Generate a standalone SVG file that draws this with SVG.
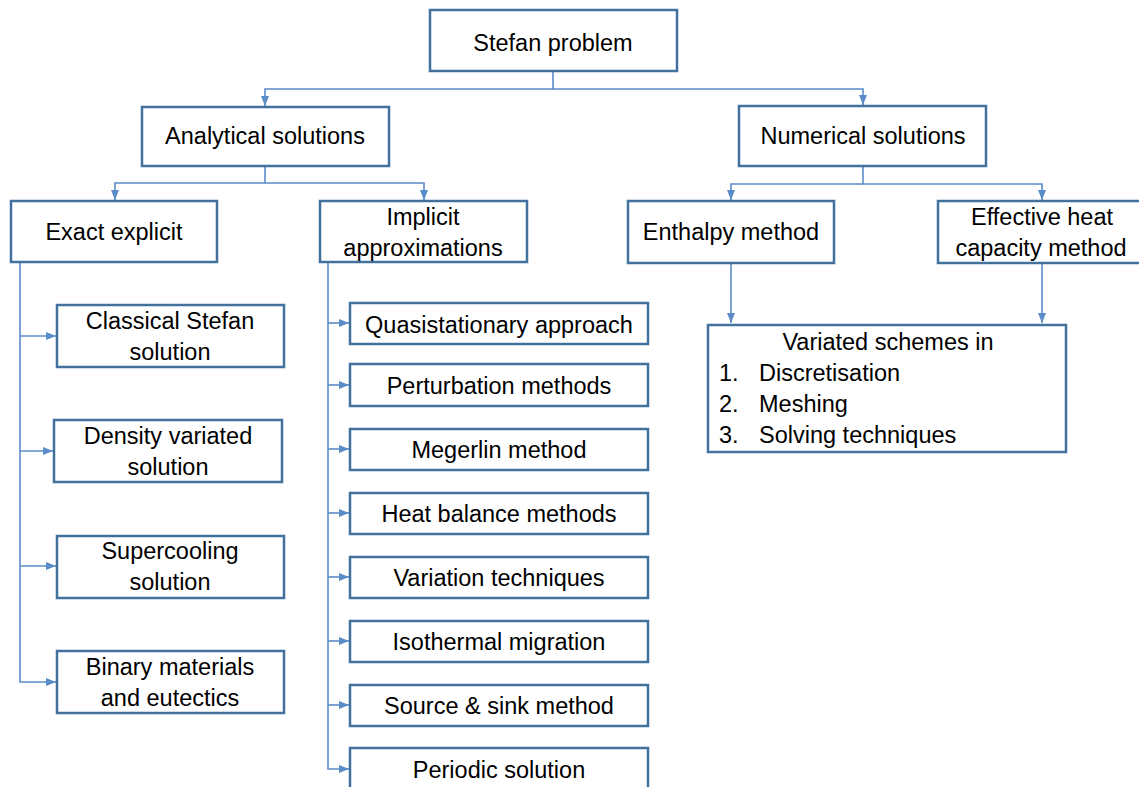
<svg xmlns="http://www.w3.org/2000/svg" width="1139" height="787" viewBox="0 0 1139 787">
<defs>
<style>
.box{fill:#fff;stroke:#41719C;stroke-width:2.5}
.lbl{font-family:"Liberation Sans",Arial,sans-serif;font-size:23.5px;fill:#000;text-anchor:middle}
.lft{text-anchor:start}
.con{fill:none;stroke:#5B8CC8;stroke-width:1.6}
</style>
<marker id="arr" markerUnits="userSpaceOnUse" markerWidth="10" markerHeight="10" viewBox="0 0 10 10" refX="10" refY="5" orient="auto">
<path d="M0,1 L10,5 L0,9 Z" fill="#5B8CC8"/>
</marker>
</defs>
<rect width="1139" height="787" fill="#fff"/>
<g id="connectors">
<path class="con" d="M553 71 V89 H265 V106" marker-end="url(#arr)"/>
<path class="con" d="M553 89 H863 V105" marker-end="url(#arr)"/>
<path class="con" d="M265 166 V183 H115 V200" marker-end="url(#arr)"/>
<path class="con" d="M265 183 H424 V200" marker-end="url(#arr)"/>
<path class="con" d="M863 166 V184 H731 V200" marker-end="url(#arr)"/>
<path class="con" d="M863 184 H1042 V200" marker-end="url(#arr)"/>
<path class="con" d="M731 263 V323" marker-end="url(#arr)"/>
<path class="con" d="M1042 263 V323" marker-end="url(#arr)"/>
<path class="con" d="M20 262 V682 H56" marker-end="url(#arr)"/>
<path class="con" d="M20 336 H56" marker-end="url(#arr)"/>
<path class="con" d="M20 451 H53" marker-end="url(#arr)"/>
<path class="con" d="M20 566 H56" marker-end="url(#arr)"/>
<path class="con" d="M328 262 V769 H349" marker-end="url(#arr)"/>
<path class="con" d="M328 323 H349" marker-end="url(#arr)"/>
<path class="con" d="M328 385 H349" marker-end="url(#arr)"/>
<path class="con" d="M328 449 H349" marker-end="url(#arr)"/>
<path class="con" d="M328 513 H349" marker-end="url(#arr)"/>
<path class="con" d="M328 577 H349" marker-end="url(#arr)"/>
<path class="con" d="M328 641 H349" marker-end="url(#arr)"/>
<path class="con" d="M328 705 H349" marker-end="url(#arr)"/>
</g>
<g id="stefan"><rect class="box" x="430" y="10" width="247" height="61"/><text class="lbl" x="553" y="51">Stefan problem</text></g>
<g id="analytical"><rect class="box" x="142" y="107" width="247" height="59"/><text class="lbl" x="265" y="144">Analytical solutions</text></g>
<g id="numerical"><rect class="box" x="739" y="106" width="247" height="60"/><text class="lbl" x="863" y="144">Numerical solutions</text></g>
<g id="exact"><rect class="box" x="11" y="201" width="206" height="61"/><text class="lbl" x="114" y="240">Exact explicit</text></g>
<g id="implicit"><rect class="box" x="320" y="201" width="207" height="61"/><text class="lbl" x="423" y="225">Implicit</text><text class="lbl" x="423" y="256">approximations</text></g>
<g id="enthalpy"><rect class="box" x="628" y="201" width="206" height="62"/><text class="lbl" x="731" y="240">Enthalpy method</text></g>
<g id="effective"><rect class="box" x="938" y="201" width="215" height="62"/><text class="lbl" x="1042" y="225">Effective heat</text><text class="lbl" x="1041" y="256">capacity method</text></g>
<g id="variated"><rect class="box" x="708" y="325" width="358" height="127"/>
<text class="lbl" x="888" y="350">Variated schemes in</text>
<text class="lbl lft" x="719" y="381">1.</text><text class="lbl lft" x="759" y="381">Discretisation</text>
<text class="lbl lft" x="719" y="412">2.</text><text class="lbl lft" x="759" y="412">Meshing</text>
<text class="lbl lft" x="719" y="443">3.</text><text class="lbl lft" x="759" y="443">Solving techniques</text>
</g>
<g id="classical"><rect class="box" x="57" y="305" width="227" height="62"/><text class="lbl" x="170" y="329">Classical Stefan</text><text class="lbl" x="170" y="360">solution</text></g>
<g id="density"><rect class="box" x="54" y="420" width="228" height="62"/><text class="lbl" x="168" y="444">Density variated</text><text class="lbl" x="168" y="475">solution</text></g>
<g id="supercooling"><rect class="box" x="57" y="536" width="227" height="62"/><text class="lbl" x="170" y="559">Supercooling</text><text class="lbl" x="170" y="590">solution</text></g>
<g id="binary"><rect class="box" x="57" y="651" width="227" height="62"/><text class="lbl" x="170" y="675">Binary materials</text><text class="lbl" x="170" y="706">and eutectics</text></g>
<g id="quasi"><rect class="box" x="350" y="303" width="298" height="41"/><text class="lbl" x="499" y="333">Quasistationary approach</text></g>
<g id="perturbation"><rect class="box" x="350" y="364" width="298" height="42"/><text class="lbl" x="499" y="394">Perturbation methods</text></g>
<g id="megerlin"><rect class="box" x="350" y="429" width="298" height="41"/><text class="lbl" x="499" y="458">Megerlin method</text></g>
<g id="heatbalance"><rect class="box" x="350" y="493" width="298" height="41"/><text class="lbl" x="499" y="522">Heat balance methods</text></g>
<g id="variation"><rect class="box" x="350" y="557" width="298" height="41"/><text class="lbl" x="499" y="586">Variation techniques</text></g>
<g id="isothermal"><rect class="box" x="350" y="621" width="298" height="41"/><text class="lbl" x="499" y="650">Isothermal migration</text></g>
<g id="source"><rect class="box" x="350" y="685" width="298" height="41"/><text class="lbl" x="499" y="714">Source &amp; sink method</text></g>
<g id="periodic"><rect class="box" x="350" y="748" width="298" height="60"/><text class="lbl" x="499" y="778">Periodic solution</text></g>
</svg>
